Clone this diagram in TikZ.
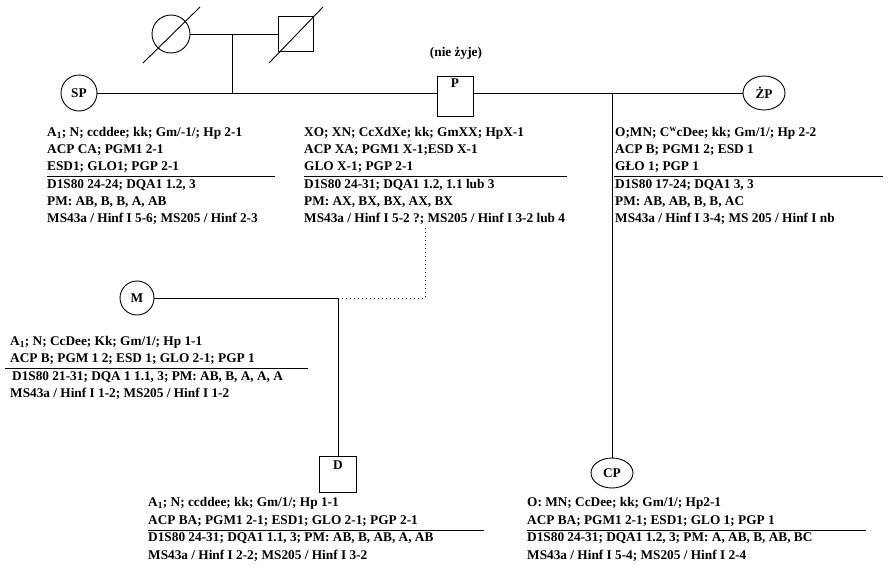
\documentclass[tikz,border=0pt]{standalone}
\usepackage{fontspec}
\setmainfont{Liberation Serif}
\usetikzlibrary{shapes.geometric}
\begin{document}
\begin{tikzpicture}[x=1pt,y=-1pt,
  lw/.style={line width=0.9pt},
  ln/.style={anchor=base west,inner sep=0pt,font=\bfseries\fontsize{13.3}{16}\selectfont},
  fem/.style={circle,draw,lw,inner sep=0pt,font=\bfseries\fontsize{13.3}{16}\selectfont},
  male/.style={rectangle,draw,lw,inner sep=0pt,font=\bfseries\fontsize{13.3}{16}\selectfont},
  ell/.style={ellipse,draw,lw,inner sep=0pt,font=\bfseries\fontsize{13.3}{16}\selectfont},
  conn/.style={lw},
  dotconn/.style={lw,dash pattern=on 1.2pt off 2.8pt},
  hr/.style={line width=0.8pt}]
\useasboundingbox (0,0) rectangle (890,586);

% grandparents
\node[fem,minimum size=38pt] (gm) at (171,34) {};
\node[male,minimum size=35pt] (gf) at (296,34) {};
\draw[lw] (143,63) -- (200,7);
\draw[lw] (269,63) -- (323,7);
\coordinate (gpm) at (232,34);
\draw[conn] (gm.east) -- (gf.west);

% generation 2
\node[fem,minimum size=36pt] (sp) at (79,93) {SP};
\node[male,minimum width=36pt,minimum height=40pt,text height=9pt,text depth=27pt] (p) at (455,96) {P};
\node[ell,minimum width=42pt,minimum height=34pt] (zp) at (764,93) {ŻP};
\node[anchor=center,inner sep=0pt,font=\bfseries\fontsize{13.3}{16}\selectfont] (nz) at (456,53) {(nie żyje)};
\coordinate (j1) at (232,93);
\coordinate (j2) at (612,93);
\draw[conn] (sp.east) -- (sp.east -| p.west);
\draw[conn] (p.east |- sp.east) -- (zp.west);
\draw[conn] (gpm) -- (j1);

% generation 3
\node[fem,minimum size=34pt] (m) at (137,298) {M};
\node[male,minimum width=37pt,minimum height=36pt,text height=9pt,text depth=18pt] (d) at (338,474) {D};
\node[ell,minimum width=42pt,minimum height=30pt] (cp) at (612,473) {CP};
\coordinate (j3) at (338,298);
\coordinate (j4) at (425,298);
\coordinate (j5) at (425,228);
\draw[conn] (m.east) -- (j3);
\draw[conn] (j3) -- (d.north);
\draw[dotconn] (j3) -- (j4) -- (j5);
\draw[conn] (j2) -- (cp.north);

% SP text
\node[ln] (sp1) at (47,136.5) {A\textsubscript{1}; N; ccddee; kk; Gm/-1/; Hp 2-1};
\node[ln] (sp2) at (47,153.7) {ACP CA; PGM1 2-1};
\node[ln] (sp3) at (47,170.9) {ESD1; GLO1; PGP 2-1};
\node[ln] (sp4) at (47,188.1) {D1S80 24-24; DQA1 1.2, 3};
\node[ln] (sp5) at (47,205.3) {PM: AB, B, B, A, AB};
\node[ln] (sp6) at (47,222.5) {MS43a / Hinf I 5-6; MS205 / Hinf 2-3};
\draw[hr] (47,176.5) -- (275,176.5);

% P text
\node[ln] (p1) at (304,136.5) {XO; XN; CcXdXe; kk; GmXX; HpX-1};
\node[ln] (p2) at (304,153.7) {ACP XA; PGM1 X-1;ESD X-1};
\node[ln] (p3) at (304,170.9) {GLO X-1; PGP 2-1};
\node[ln] (p4) at (304,188.1) {D1S80 24-31; DQA1 1.2, 1.1 lub 3};
\node[ln] (p5) at (304,205.3) {PM: AX, BX, BX, AX, BX};
\node[ln] (p6) at (304,222.5) {MS43a / Hinf I 5-2 ?; MS205 / Hinf I 3-2 lub 4};
\draw[hr] (304,176.5) -- (567,176.5);

% ZP text
\node[ln] (z1) at (615,136.5) {O;MN; C\textsuperscript{w}cDee; kk; Gm/1/; Hp 2-2};
\node[ln] (z2) at (615,153.7) {ACP B; PGM1 2; ESD 1};
\node[ln] (z3) at (615,170.9) {GŁO 1; PGP 1};
\node[ln] (z4) at (615,188.1) {D1S80 17-24; DQA1 3, 3};
\node[ln] (z5) at (615,205.3) {PM: AB, AB, B, B, AC};
\node[ln] (z6) at (615,222.5) {MS43a / Hinf I 3-4; MS 205 / Hinf I nb};
\draw[hr] (614,176.5) -- (883,176.5);

% M text
\node[ln] (m1) at (10,345) {A\textsubscript{1}; N; CcDee; Kk; Gm/1/; Hp 1-1};
\node[ln] (m2) at (10,362.5) {ACP B; PGM 1 2; ESD 1; GLO 2-1; PGP 1};
\node[ln] (m3) at (12,380) {D1S80 21-31; DQA 1 1.1, 3; PM: AB, B, A, A, A};
\node[ln] (m4) at (10,397.5) {MS43a / Hinf I 1-2; MS205 / Hinf I 1-2};
\draw[hr] (5,368) -- (308,368);

% D text
\node[ln] (d1) at (148,506.5) {A\textsubscript{1}; N; ccddee; kk; Gm/1/; Hp 1-1};
\node[ln] (d2) at (148,524) {ACP BA; PGM1 2-1; ESD1; GLO 2-1; PGP 2-1};
\node[ln] (d3) at (148,541.5) {D1S80 24-31; DQA1 1.1, 3; PM: AB, B, AB, A, AB};
\node[ln] (d4) at (148,559) {MS43a / Hinf I 2-2; MS205 / Hinf I 3-2};
\draw[hr] (148,530) -- (484,530);

% CP text
\node[ln] (c1) at (527,506.5) {O: MN; CcDee; kk; Gm/1/; Hp2-1};
\node[ln] (c2) at (527,524) {ACP BA; PGM1 2-1; ESD1; GLO 1; PGP 1};
\node[ln] (c3) at (527,541.5) {D1S80 24-31; DQA1 1.2, 3; PM: A, AB, B, AB, BC};
\node[ln] (c4) at (527,559) {MS43a / Hinf I 5-4; MS205 / Hinf I 2-4};
\draw[hr] (527,530) -- (866,530);
\end{tikzpicture}
\end{document}
